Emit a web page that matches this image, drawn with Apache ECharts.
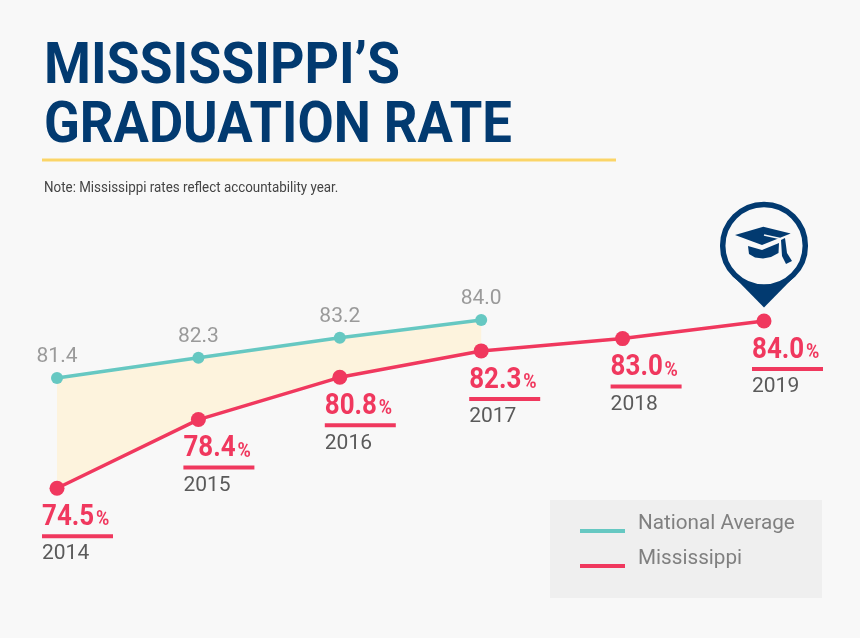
<!DOCTYPE html>
<html><head><meta charset="utf-8">
<style>html,body{margin:0;padding:0;background:#f8f8f8}#c{width:860px;height:638px}</style>
<script src="https://cdn.jsdelivr.net/npm/echarts@6/dist/echarts.min.js"></script>
</head><body><div id="c"></div>
<script>
const years = ['2014','2015','2016','2017','2018','2019'];
const nationalAverage = [81.4, 82.3, 83.2, 84.0];
const mississippi = [74.5, 78.4, 80.8, 82.3, 83.0, 84.0];
const titleLine1 = 'MISSISSIPPI’S';
const titleLine2 = 'GRADUATION RATE';
const noteText = 'Note: Mississippi rates reflect accountability year.';

const NAVY='#023a70', RED='#f0385e', TEAL='#66c8c2', BG='#f8f8f8', CREAM='#fdf3dd';
const chart = echarts.init(document.getElementById('c'), null, {renderer:'canvas'});

function bandItem(params, api){
  if(params.dataIndex!==0) return null;
  const pts=[];
  const n=nationalAverage.length;
  for(let i=0;i<n;i++){
    pts.push([api.coord([i,0])[0], chart.convertToPixel({yAxisIndex:1},nationalAverage[i])]);
  }
  for(let i=n-1;i>=0;i--){ pts.push(api.coord([i,mississippi[i]])); }
  return {type:'polygon',shape:{points:pts},style:{fill:CREAM}};
}
function labelItem(params, api){
  const i=params.dataIndex, p=api.coord([i,api.value(1)]);
  const left=p[0]+(i<3?-15:-12), top=p[1];
  const v=mississippi[i].toFixed(1);
  return {type:'group',children:[
    {type:'text',x:left,y:top+29.5,scaleX:0.895,style:{text:v,font:'bold 29px Roboto',fill:RED,textVerticalAlign:'middle',textAlign:'left'}},
    {type:'text',x:left+54,y:top+32,scaleX:0.9,style:{text:'%',font:'bold 20px Roboto',fill:RED,textVerticalAlign:'middle',textAlign:'left'}},
    {type:'rect',shape:{x:left,y:top+46,width:71,height:4},style:{fill:RED}},
    {type:'text',style:{x:left,y:top+66,text:years[i],font:'21px Roboto',fill:'#5a5a5a',textVerticalAlign:'middle',textAlign:'left'}}
  ]};
}

chart.setOption({
  backgroundColor:BG,
  animation:false,
  grid:{left:57,top:250.6,width:707,height:281.6},
  xAxis:{type:'category',data:years,boundaryGap:false,show:false},
  yAxis:[
    {type:'value',min:72,max:88,show:false},
    {type:'value',min:74.48,max:87.11,show:false}
  ],
  legend:{
    data:['National Average','Mississippi'],orient:'vertical',left:580,top:513,padding:0,
    itemWidth:45,itemHeight:19,itemGap:14,icon:'path://M0 0L45 0L45 0Z M0 15H45V19H0Z',
    itemStyle:{borderWidth:0},
    textStyle:{fontFamily:'Roboto',fontSize:20.7,color:'#808080',padding:[0,0,0,8]}
  },
  series:[
    {type:'custom',name:'gap',silent:true,z:1,renderItem:bandItem,data:[[0,0]],encode:{x:0,y:1}},
    {type:'line',name:'National Average',yAxisIndex:1,data:nationalAverage,z:3,
      lineStyle:{color:TEAL,width:3.5},itemStyle:{color:TEAL},symbol:'circle',symbolSize:12,showAllSymbol:true,
      label:{show:true,position:'top',distance:5,fontFamily:'Roboto',fontSize:21,color:'#9a9a9a',
        formatter:p=>p.value.toFixed(1)}},
    {type:'line',name:'Mississippi',data:mississippi,z:4,
      lineStyle:{color:RED,width:3.5},itemStyle:{color:RED},symbol:'circle',symbolSize:15,showAllSymbol:true},
    {type:'custom',name:'labels',silent:true,z:5,renderItem:labelItem,
      data:mississippi.map((v,i)=>[i,v]),encode:{x:0,y:1}}
  ],
  graphic:[
    {type:'text',x:44,y:40.5,scaleX:0.94,style:{text:titleLine1,font:'bold 57px Roboto',fill:NAVY}},
    {type:'text',x:44,y:99,scaleX:0.923,style:{text:titleLine2,font:'bold 57px Roboto',fill:NAVY}},
    {type:'rect',shape:{x:42,y:158.5,width:574,height:3},style:{fill:'#fbd568'}},
    {type:'text',x:44,y:181,scaleX:0.955,style:{text:noteText,font:'14px Roboto',fill:'#444'}},
    {type:'rect',z:-1,shape:{x:550,y:500,width:272,height:98},style:{fill:'#efefef'}},
    {type:'group',z:6,children:[
      {type:'polygon',shape:{points:[[764,307.5],[733,276],[795,276]]},style:{fill:NAVY}},
      {type:'circle',shape:{cx:764,cy:245.7,r:41.3},style:{fill:BG,stroke:NAVY,lineWidth:5.5}},
      {type:'polygon',shape:{points:[[735,235],[763.3,226.7],[790.7,233.5],[762,245]]},style:{fill:NAVY}},
      {type:'polygon',shape:{points:[[748,246],[762,250],[779,243],[778.5,253],[771,257],[763,258.5],[755,257.5],[749,254]]},style:{fill:NAVY}},
      {type:'polyline',shape:{points:[[764,235],[780,238.5]]},style:{stroke:BG,lineWidth:1.5,fill:'none'}},
      {type:'polygon',shape:{points:[[781,240],[785,238],[787,253],[792,261],[786,264],[782,256]]},style:{fill:NAVY}}
    ]}
  ]
});
</script></body></html>
